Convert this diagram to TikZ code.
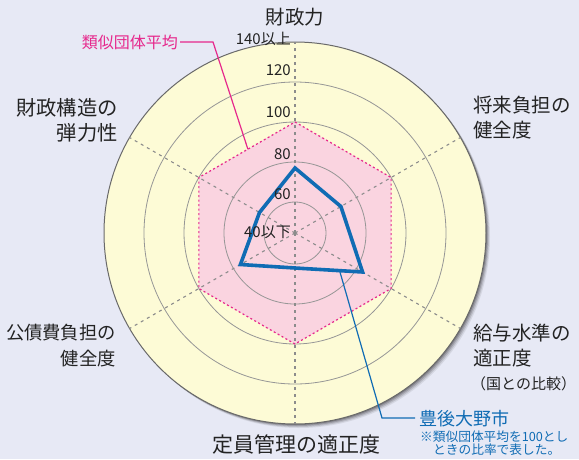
\documentclass[tikz,border=0pt]{standalone}
\usepackage{fontspec}
\setmainfont{Noto Sans CJK JP}
\usetikzlibrary{calc}
\definecolor{bgc}{RGB}{231,233,245}
\definecolor{yel}{RGB}{253,251,214}
\definecolor{pinkfill}{RGB}{250,212,224}
\definecolor{pinkline}{RGB}{230,40,140}
\definecolor{bluec}{RGB}{16,108,180}
\definecolor{txt}{RGB}{35,35,35}
\definecolor{ringc}{RGB}{150,150,150}
\definecolor{axisc}{RGB}{140,140,140}
\tikzset{
  ring/.style={draw=ringc, line width=0.8pt},
  axisline/.style={draw=axisc, line width=1.1pt, dash pattern=on 3pt off 4pt},
  biglabel/.style={text=txt, font=\fontsize{19.5pt}{25pt}\selectfont, inner sep=0pt},
  scalelabel/.style={text=txt, font=\fontsize{15pt}{17pt}\selectfont, inner sep=0pt, anchor=east},
  avgpoly/.style={draw=pinkline, line width=1.2pt, dash pattern=on 2pt off 2.5pt},
  citypoly/.style={draw=bluec, line width=3.6pt, line join=miter},
  leaderpink/.style={draw=pinkline, line width=1.2pt},
  leaderblue/.style={draw=bluec, line width=1.2pt}
}
\begin{document}
\begin{tikzpicture}[x=1pt,y=-1pt]
\useasboundingbox (0,0) rectangle (579,459);
\fill[bgc] (0,0) rectangle (579,459);
\coordinate (c) at (295,233);
% shadow of outer disc
\foreach \s/\o in {4/0.08,3/0.12,2/0.16,1/0.2}{
  \fill[black, opacity=\o] ([shift={(\s,\s)}]c) circle (191pt);
}
\fill[yel] (c) circle (191pt);
% hexagon of average (100)
\foreach \i/\a in {1/90,2/30,3/-30,4/-90,5/-150,6/150}{
  \coordinate (h\i) at ($(c)+(\a:111pt)$);
  \coordinate (o\i) at ($(c)+(\a:191pt)$);
}
\fill[pinkfill] (h1) -- (h2) -- (h3) -- (h4) -- (h5) -- (h6) -- cycle;
% rings
\foreach \r in {31,71,111,151}{
  \draw[ring] (c) circle (\r pt);
}
\draw[draw=ringc!70!black, line width=1pt] (c) circle (191pt);
% axes
\foreach \i in {1,...,6}{
  \draw[axisline] (c) -- (o\i);
}
\draw[avgpoly] (h1) -- (h2) -- (h3) -- (h4) -- (h5) -- (h6) -- cycle;
% city polygon
\coordinate (b1) at ($(c)+(90:65pt)$);
\coordinate (b2) at ($(c)+(30:53pt)$);
\coordinate (b3) at ($(c)+(-30:78pt)$);
\coordinate (b4) at ($(c)+(-90:35pt)$);
\coordinate (b5) at ($(c)+(-150:63pt)$);
\coordinate (b6) at ($(c)+(150:41pt)$);
\draw[citypoly] (b1) -- (b2) -- (b3) -- (b4) -- (b5) -- (b6) -- cycle;
% scale labels
\node[scalelabel] (s140) at (291,39) {140以上};
\node[scalelabel] (s120) at (291,70) {120};
\node[scalelabel] (s100) at (291,112) {100};
\node[scalelabel] (s80) at (291,154) {80};
\node[scalelabel] (s60) at (291,194) {60};
\node[scalelabel] (s40) at (291,232) {40以下};
% axis labels
\node[biglabel] (l1) at (295,17) {財政力};
\node[biglabel, anchor=west, align=left] (l2) at (473,118) {将来負担の\\健全度};
\node[biglabel, anchor=west, align=left] (l3) at (473,346) {給与水準の\\適正度};
\node[text=txt, font=\fontsize{15pt}{17pt}\selectfont, inner sep=0pt, anchor=west] (l3b) at (471,384) {（国との比較）};
\node[biglabel, font=\fontsize{21pt}{25pt}\selectfont] (l4) at (296,445) {定員管理の適正度};
\node[biglabel, font=\fontsize{18.3pt}{26pt}\selectfont, anchor=east, align=right] (l5) at (116,346) {公債費負担の\\健全度};
\node[biglabel, font=\fontsize{20.3pt}{25pt}\selectfont, anchor=east, align=right] (l6) at (118,120) {財政構造の\\弾力性};
% legend: average
\node[text=pinkline, font=\fontsize{16pt}{18pt}\selectfont, inner sep=0pt, anchor=east] (avg) at (178,42) {類似団体平均};
\coordinate (pbend) at (213,42);
\coordinate (ptip) at ($(h1)!0.49!(h6)$);
\draw[leaderpink] (avg.east) ++(2,0) -- (pbend) -- (ptip);
% legend: city
\node[text=bluec, font=\fontsize{18pt}{20pt}\selectfont, inner sep=0pt, anchor=west] (city) at (419,419) {豊後大野市};
\coordinate (btip) at ($(b4)!0.66!(b3)$);
\coordinate (bbend) at (382,418);
\coordinate (bend2) at (415,418);
\draw[leaderblue] (btip) -- (bbend) -- (bend2);
\node[text=bluec, font=\fontsize{12.7pt}{14pt}\selectfont, inner sep=0pt, anchor=west] (note1) at (420,437) {※類似団体平均を100とし};
\node[text=bluec, font=\fontsize{12.7pt}{14pt}\selectfont, inner sep=0pt, anchor=west] (note2) at (433,450) {ときの比率で表した。};
\end{tikzpicture}
\end{document}
